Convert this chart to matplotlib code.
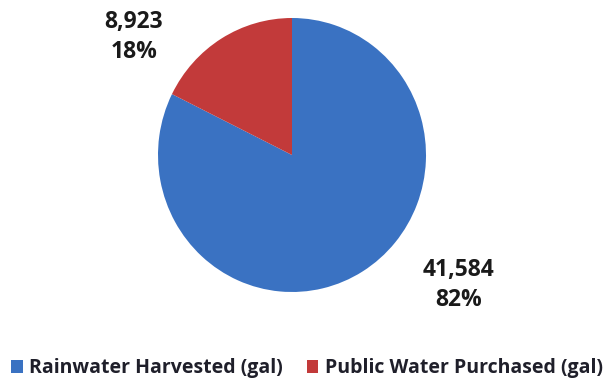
import matplotlib
matplotlib.use("Agg")
import matplotlib.pyplot as plt

labels = ["Rainwater Harvested (gal)", "Public Water Purchased (gal)"]
values = [41584, 8923]
percents = ["82%", "18%"]
colors = ["#3A72C2", "#C23A3A"]

plt.rcParams['font.family'] = ['Open Sans', 'DejaVu Sans']

fig = plt.figure(figsize=(6.14, 3.82), dpi=100)
# ellipse-shaped pie: centre ~(292,155) px, radii ~133 x 137 px
cx, cy = 292 / 614, 1 - 155 / 382
rx, ry = 134 / 614, 137 / 382
ax = fig.add_axes([cx - rx, cy - ry, 2 * rx, 2 * ry])

wedges, _ = ax.pie(values, colors=colors, startangle=90, counterclock=False,
                   radius=1, wedgeprops=dict(linewidth=0))
ax.set_aspect('auto')
ax.set_xlim(-1, 1)
ax.set_ylim(-1, 1)
ax.axis('off')

# value labels
label_pos = [(1.24, -0.95), (-1.18, 0.86)]
for v, p, (x, y) in zip(values, percents, label_pos):
    ax.text(x, y, f"{v:,}\n{p}", ha='center', va='center', fontsize=16.5,
            fontweight='bold', color='#1a1a1a', linespacing=1.3, clip_on=False)

fig.legend(wedges, labels, loc='center', bbox_to_anchor=(0.5, 0.036), ncol=2,
           frameon=False, handlelength=0.6, handleheight=0.6,
           handletextpad=0.35, columnspacing=1.2, borderaxespad=0,
           prop=dict(size=14, weight='bold'))
for t in fig.legends[0].get_texts():
    t.set_color('#1f1f2a')

fig.savefig("out.png", dpi=100)
